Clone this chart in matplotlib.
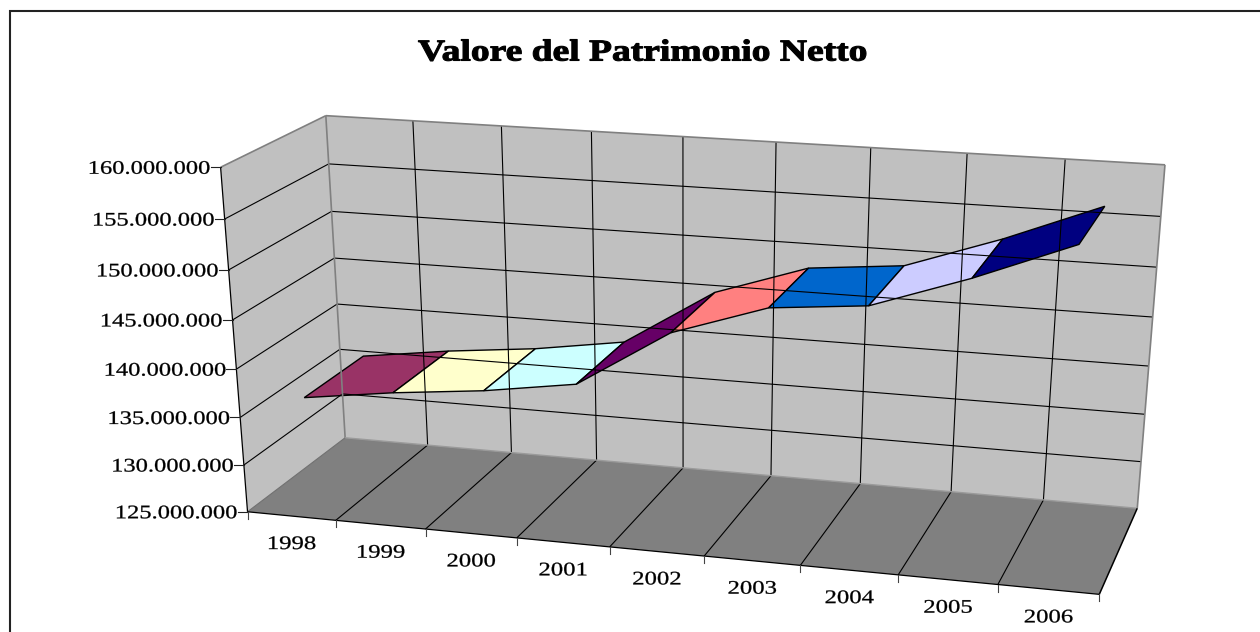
import numpy as np
import matplotlib
matplotlib.use('Agg')
import matplotlib.pyplot as plt
import matplotlib.patheffects as pe
from matplotlib.transforms import Affine2D

years = ['1998', '1999', '2000', '2001', '2002', '2003', '2004', '2005', '2006']
patrimonio = [136.0, 137.3, 138.3, 139.75, 145.65, 148.8, 149.7, 153.0, 156.8]  # milioni
tick_values = [125, 130, 135, 140, 145, 150, 155, 160]
tick_labels = ['125.000.000', '130.000.000', '135.000.000', '140.000.000',
               '145.000.000', '150.000.000', '155.000.000', '160.000.000']
colors = ['#993366', '#FFFFCC', '#CCFFFF', '#660066', '#FF8080', '#0066CC', '#CCCCFF', '#000080']
title = 'Valore del Patrimonio Netto'

W, H = 1260, 632
n = len(years)

# the 3d box corners in the picture: (category, depth, height) -> pixel
calib = [((0, 0, 0), (247.7, 511.7)), ((0, 0, 1), (220.7, 166.7)), ((0, 1, 1), (325.7, 116)),
         ((0, 1, 0), (345, 438)), ((n, 1, 0), (1137.5, 507.5)), ((n, 1, 1), (1165, 165)),
         ((n, 0, 0), (1099, 595))]
rows = []
for (u, d, v), (x, y) in calib:
    rows.append([u, d, v, 1, 0, 0, 0, 0, -x*u, -x*d, -x*v, -x])
    rows.append([0, 0, 0, 0, u, d, v, 1, -y*u, -y*d, -y*v, -y])
P = np.linalg.svd(np.array(rows))[2][-1].reshape(3, 4)


def project(u, d, val):
    h = (val - tick_values[0]) / (tick_values[-1] - tick_values[0])
    p = P @ np.array([u, d, h, 1.0])
    return p[0] / p[2], p[1] / p[2]


class Stretch(pe.AbstractPathEffect):
    # the original text is wider than the font, pull it sideways round its anchor
    def __init__(self, sx, x, y, stroke=0):
        super().__init__()
        self.t = Affine2D().translate(-x, -(H - y)).scale(sx, 1).translate(x, H - y)
        self.stroke = stroke

    def draw_path(self, renderer, gc, tpath, affine, rgbFace=None):
        gc0 = renderer.new_gc()
        gc0.copy_properties(gc)
        gc0.set_linewidth(self.stroke)
        gc0.set_foreground('black')
        renderer.draw_path(gc0, tpath, affine + self.t, rgbFace)
        gc0.restore()


def label(x, y, s, size, sx, ha='center', stroke=0, **kw):
    t = ax.text(x, y, s, fontsize=size, ha=ha, va='center', color='black',
                family='Liberation Serif', **kw)
    t.set_path_effects([Stretch(sx, x, y, stroke)])


def seg(a, b, color='black', lw=0.8):
    pa, pb = project(*a), project(*b)
    ax.plot([pa[0], pb[0]], [pa[1], pb[1]], color=color, lw=lw, solid_capstyle='butt')


fig = plt.figure(figsize=(W / 100, H / 100), dpi=100)
ax = fig.add_axes([0, 0, 1, 1])
ax.set_xlim(0, W)
ax.set_ylim(H, 0)
ax.axis('off')

# chart frame, right and bottom are cut off in the original
ax.plot([10, 10, W], [H, 11, 11], color='#222222', lw=1.5, solid_joinstyle='miter')

lo, hi = tick_values[0], tick_values[-1]
gray = '#808080'

# walls and floor
ax.fill(*zip(project(0, 1, lo), project(0, 1, hi), project(n, 1, hi), project(n, 1, lo)), color='#C0C0C0', lw=0)
ax.fill(*zip(project(0, 0, lo), project(0, 0, hi), project(0, 1, hi), project(0, 1, lo)), color='#C0C0C0', lw=0)
ax.fill(*zip(project(0, 0, lo), project(0, 1, lo), project(n, 1, lo), project(n, 0, lo)), color='#808080', lw=0)

# grid
for v in tick_values[1:-1]:
    seg((0, 0, v), (0, 1, v))
    seg((0, 1, v), (n, 1, v))
for k in range(1, n):
    seg((k, 1, lo), (k, 1, hi))
    seg((k, 0, lo), (k, 1, lo))

# box edges
seg((0, 1, lo), (0, 1, hi), gray, 1.2)
seg((0, 1, hi), (n, 1, hi), gray, 1.2)
seg((0, 0, hi), (0, 1, hi), gray, 1.2)
seg((n, 1, lo), (n, 1, hi), gray, 1.2)
seg((0, 1, lo), (n, 1, lo), '#9a9a9a', 1.0)
seg((0, 0, lo), (0, 1, lo), '#707070', 0.8)
seg((0, 0, lo), (0, 0, hi), 'black', 0.9)
seg((0, 0, lo), (n, 0, lo), 'black', 0.9)
seg((n, 0, lo), (n, 1, lo), 'black', 1.1)

# ticks and labels of the value axis
for v, s in zip(tick_values, tick_labels):
    x, y = project(0, 0, v)
    ax.plot([x - 10, x], [y, y], color='#222222', lw=0.8)
    label(x - 11, y + 2, s, 13.8, 1.28, ha='right', stroke=0.2)

# ticks of the category axis
for k in range(n + 1):
    x, y = project(k, 0, lo)
    ax.plot([x, x], [y, y + 7], color='#444444', lw=0.8)
for k, s in enumerate(years):
    x, y = project(k + 0.5, 0, lo)
    label(x, y + 28.5, s, 13.8, 1.29, stroke=0.2)

# the ribbon
d1, d2 = 0.195, 0.805
for k in range(n - 1):
    a, b = patrimonio[k], patrimonio[k + 1]
    corners = [project(k + 0.5, d1, a), project(k + 1.5, d1, b),
               project(k + 1.5, d2, b), project(k + 0.5, d2, a)]
    ax.fill(*zip(*corners), facecolor=colors[k], edgecolor='black', lw=1.0, joinstyle='miter')

label(642.5, 53, title, 21.8, 1.24, stroke=0.8, fontweight='bold')

fig.savefig('out.png', dpi=100)
